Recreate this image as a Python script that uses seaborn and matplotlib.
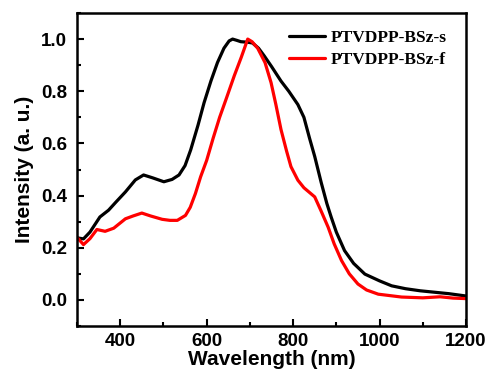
import matplotlib
matplotlib.use("Agg")
import matplotlib.pyplot as plt
import seaborn as sns
import pandas as pd
from matplotlib.ticker import MultipleLocator

wl_s = [300, 315, 330, 353, 373, 390, 412, 435, 454, 475, 501, 520, 536, 550, 563, 580, 594,
        610, 625, 640, 652, 660, 670, 679, 695, 706, 720, 733, 750, 772, 790, 811, 825, 838,
        850, 865, 878, 888, 900, 919, 940, 966, 1000, 1028, 1060, 1094, 1130, 1160, 1200]
int_s = [0.238, 0.234, 0.26, 0.318, 0.344, 0.375, 0.414, 0.46, 0.479, 0.468, 0.453, 0.462,
         0.479, 0.515, 0.575, 0.67, 0.756, 0.84, 0.91, 0.965, 0.993, 1.0, 0.995, 0.99, 0.988,
         0.985, 0.965, 0.936, 0.895, 0.839, 0.80, 0.749, 0.70, 0.62, 0.55, 0.45, 0.37, 0.318,
         0.26, 0.189, 0.14, 0.099, 0.073, 0.054, 0.043, 0.035, 0.029, 0.024, 0.015]

wl_f = [300, 315, 330, 346, 365, 385, 412, 430, 450, 470, 497, 515, 532, 551, 562, 574, 586,
        600, 615, 630, 645, 664, 680, 695, 705, 718, 735, 749, 760, 772, 785, 795, 811, 825,
        850, 865, 881, 895, 912, 930, 950, 970, 997, 1051, 1100, 1140, 1170, 1200]
int_f = [0.24, 0.212, 0.235, 0.27, 0.263, 0.275, 0.311, 0.322, 0.333, 0.322, 0.309, 0.305,
         0.305, 0.324, 0.355, 0.408, 0.472, 0.535, 0.62, 0.70, 0.77, 0.86, 0.93, 1.0, 0.99,
         0.965, 0.91, 0.833, 0.75, 0.653, 0.57, 0.511, 0.459, 0.43, 0.395, 0.34, 0.279, 0.215,
         0.151, 0.10, 0.061, 0.038, 0.022, 0.011, 0.008, 0.012, 0.007, 0.005]

labels = ["PTVDPP-BSz-s", "PTVDPP-BSz-f"]
colors = ["black", "#ff0000"]

df = pd.concat([
    pd.DataFrame({"wl": wl_s, "I": int_s, "sample": labels[0]}),
    pd.DataFrame({"wl": wl_f, "I": int_f, "sample": labels[1]}),
])

sns.set_style("ticks")
plt.rcParams["font.family"] = ["Liberation Sans", "DejaVu Sans"]
plt.rcParams["lines.solid_joinstyle"] = "round"
plt.rcParams["lines.solid_capstyle"] = "round"
plt.rcParams["text.color"] = "black"
plt.rcParams["axes.labelcolor"] = "black"
plt.rcParams["xtick.color"] = "black"
plt.rcParams["ytick.color"] = "black"
plt.rcParams["axes.edgecolor"] = "black"

fig = plt.figure(figsize=(4.88, 3.76), dpi=100)
ax = fig.add_axes([77/488, 1-326/376, (466-77)/488, (326-13)/376])

sns.lineplot(data=df, x="wl", y="I", hue="sample", palette=colors, linewidth=2.3,
             ax=ax, sort=True)

ax.set_xlim(300, 1200)
ax.set_ylim(-0.1, 1.1)
ax.xaxis.set_minor_locator(MultipleLocator(100))
ax.yaxis.set_major_locator(MultipleLocator(0.2))
ax.yaxis.set_minor_locator(MultipleLocator(0.1))
ax.set_xticks([400, 600, 800, 1000, 1200])
ax.tick_params(which="both", direction="in", width=1.5, labelsize=13.5,
               colors="black")
ax.tick_params(which="major", length=5, pad=5)
ax.tick_params(which="minor", length=3)
ax.tick_params(axis="y", which="major", pad=7)
for lab in ax.get_xticklabels() + ax.get_yticklabels():
    lab.set_fontweight("bold")
for s in ax.spines.values():
    s.set_linewidth(1.8)
    s.set_color("black")
    s.set_visible(True)

ax.set_xlabel("Wavelength (nm)", fontsize=15, fontweight="bold", labelpad=0,
              color="black")
ax.set_ylabel("Intensity (a. u.)", fontsize=15, fontweight="bold", labelpad=5,
              color="black")

leg = ax.legend(frameon=False, loc="upper right", bbox_to_anchor=(0.99, 0.995),
                prop={"family": "Liberation Serif", "weight": "bold", "size": 12.5},
                handlelength=2.1, handletextpad=0.3, labelspacing=0.3)
for t in leg.get_texts():
    t.set_color("black")
for l in leg.get_lines():
    l.set_linewidth(2.3)

fig.savefig("out.png", dpi=100)
